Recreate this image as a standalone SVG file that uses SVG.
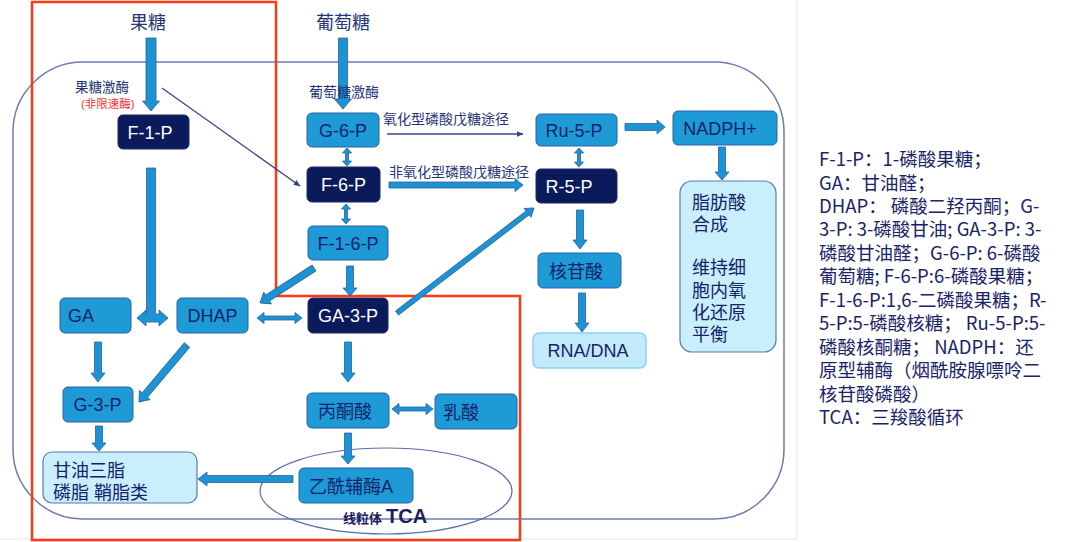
<svg xmlns="http://www.w3.org/2000/svg" width="1080" height="542" viewBox="0 0 1080 542">
<style>
.t{font-family:"Liberation Sans","Noto Sans CJK SC",sans-serif;}
.lb{fill:#1e9ad6;stroke:#2b63a6;stroke-width:1;}
.dk{fill:#0b1a5a;stroke:#1e2a6a;stroke-width:1;}
.pale{fill:#c9eefc;stroke:#5a78b5;stroke-width:1.2;}
.nt{font-size:18px;fill:#13236a;}
.wt{font-size:18px;fill:#ffffff;}
.ba{fill:#1c93d3;stroke:#2a5f9e;stroke-width:0.8;}
.thin{stroke:#34478a;stroke-width:1.3;fill:none;}
.lab{font-size:14px;fill:#253575;}
.leg{font-family:"Noto Sans CJK SC","Noto Sans",sans-serif;font-size:18.5px;fill:#1a2468;}
</style>
<defs>
<marker id="ah" viewBox="0 0 10 10" refX="9" refY="5" markerWidth="7" markerHeight="7" orient="auto" markerUnits="userSpaceOnUse">
<path d="M0,1 L10,5 L0,9 Z" fill="#34478a"/>
</marker>
</defs>
<rect width="1080" height="542" fill="#ffffff"/>
<line x1="797" y1="0" x2="797" y2="539" stroke="#e6e6e6" stroke-width="1"/>
<line x1="0" y1="539" x2="797" y2="539" stroke="#e6e6e6" stroke-width="1"/>

<g id="frame">
<rect x="13" y="62" width="771" height="457" rx="70" ry="70" fill="none" stroke="#6b7cb3" stroke-width="1.5"/>
</g>
<g id="redbox">
<polygon points="32,2 276,2 276,296 520,296 520,540 32,540" fill="none" stroke="#ff3a12" stroke-width="2.5"/>
</g>
<g id="mito">
<ellipse cx="386" cy="491" rx="126" ry="43" fill="none" stroke="#5a6ea8" stroke-width="1.2"/>
<text class="t" x="343" y="523" font-size="13" font-weight="bold" fill="#1a2060">线粒体</text>
<text class="t" x="386" y="523" font-size="20" font-weight="bold" fill="#1a2060">TCA</text>
</g>

<g id="connectors">
<path class="ba" d="M146,38 L156,38 L156,101 L159.5,101 L151,111 L142.5,101 L146,101 Z"/>
<path class="ba" d="M338.5,38 L347.5,38 L347.5,99 L351.5,99 L343,109 L334.5,99 L338.5,99 Z"/>
<path class="ba" d="M137,318 L146,310 L146,314 L146.5,314 L146.5,168 L155.5,168 L155.5,314 L159,314 L159,310 L168,318 L159,326 L159,322 L146,322 L146,326 Z"/>
<line class="thin" x1="162" y1="88" x2="300" y2="186" marker-end="url(#ah)"/>
<path class="ba" d="M347,148 L351.5,153 L348.5,153 L348.5,161 L351.5,161 L347,166 L342.5,161 L345.5,161 L345.5,153 L342.5,153 Z"/>
<path class="ba" d="M346,204 L350.5,209 L347.5,209 L347.5,219 L350.5,219 L346,224 L341.5,219 L344.5,219 L344.5,209 L341.5,209 Z"/>
<line class="thin" x1="387" y1="134" x2="523" y2="134" marker-end="url(#ah)"/>
<path class="ba" d="M389,182 L515,182 L515,178.5 L523,185 L515,191.5 L515,188 L389,188 Z"/>
<path class="ba" d="M579,148 L583.5,153 L580.5,153 L580.5,162 L583.5,162 L579,167 L574.5,162 L577.5,162 L577.5,153 L574.5,153 Z"/>
<path class="ba" d="M625,123.5 L657,123.5 L657,120 L665,127 L657,134 L657,130.5 L625,130.5 Z"/>
<path class="ba" d="M718.5,147 L725.5,147 L725.5,172 L729,172 L722,180 L715,172 L718.5,172 Z"/>
<path class="ba" d="M576.5,210 L583.5,210 L583.5,240 L587,240 L580,249 L573,240 L576.5,240 Z"/>
<path class="ba" d="M578.5,293 L585.5,293 L585.5,323 L589,323 L582,332 L575,323 L578.5,323 Z"/>
<path class="ba" d="M346.5,266 L353.5,266 L353.5,288 L357,288 L350,296 L343,288 L346.5,288 Z"/>
<path class="ba" transform="translate(314,268) rotate(147.1)" d="M0,-3.5 L55.3,-3.5 L55.3,-7 L64.3,0 L55.3,7 L55.3,3.5 L0,3.5 Z"/>
<path class="ba" d="M257,318 L264,312.5 L264,316 L295,316 L295,312.5 L302,318 L295,323.5 L295,320 L264,320 L264,323.5 Z"/>
<path class="ba" transform="translate(397,313) rotate(-37.47)" d="M0,-2.5 L164.6,-2.5 L164.6,-5.5 L172.6,0 L164.6,5.5 L164.6,2.5 L0,2.5 Z"/>
<path class="ba" d="M94.5,342 L101.5,342 L101.5,373 L105,373 L98,382 L91,373 L94.5,373 Z"/>
<path class="ba" transform="translate(187,345) rotate(130.1)" d="M0,-3.5 L65.5,-3.5 L65.5,-7 L74.5,0 L65.5,7 L65.5,3.5 L0,3.5 Z"/>
<path class="ba" d="M344.5,342 L351.5,342 L351.5,373 L355,373 L348,382 L341,373 L344.5,373 Z"/>
<path class="ba" d="M392,409 L399,403.5 L399,407 L426,407 L426,403.5 L433,409 L426,414.5 L426,411 L399,411 L399,414.5 Z"/>
<path class="ba" d="M344.5,433 L351.5,433 L351.5,456 L355,456 L348,464 L341,456 L344.5,456 Z"/>
<path class="ba" d="M293,475.5 L207,475.5 L207,472 L198,479 L207,486 L207,482.5 L293,482.5 Z"/>
<path class="ba" d="M95.5,426 L102.5,426 L102.5,443 L106,443 L99,451 L92,443 L95.5,443 Z"/>
</g>

<g id="labels">
<text class="t" x="148" y="28.5" font-size="18" fill="#253575" text-anchor="middle">果糖</text>
<text class="t" x="343" y="28.5" font-size="18" fill="#253575" text-anchor="middle">葡萄糖</text>
<text class="t" x="75" y="92" font-size="13.5" fill="#253575">果糖激酶</text>
<text class="t" x="81" y="107.5" font-size="11.5" fill="#ff3030">(非限速酶)</text>
<text class="t lab" x="309" y="97">葡萄糖激酶</text>
<text class="t lab" x="383" y="124">氧化型磷酸戊糖途径</text>
<text class="t lab" x="389" y="177">非氧化型磷酸戊糖途径</text>
</g>

<g id="n-f1p"><rect class="dk" x="118" y="115" width="71" height="34" rx="5"/><text class="t wt" x="150" y="138.5" text-anchor="middle">F-1-P</text></g>
<g id="n-g6p"><rect class="lb" x="307" y="113" width="72" height="34" rx="5"/><text class="t nt" x="343" y="136.5" text-anchor="middle">G-6-P</text></g>
<g id="n-f6p"><rect class="dk" x="307" y="167" width="73" height="35" rx="5"/><text class="t wt" x="343.5" y="191" text-anchor="middle">F-6-P</text></g>
<g id="n-f16p"><rect class="lb" x="308" y="226" width="80" height="34" rx="5"/><text class="t nt" x="348" y="249.5" text-anchor="middle">F-1-6-P</text></g>
<g id="n-ga3p"><rect class="dk" x="308" y="298" width="80" height="35" rx="5"/><text class="t wt" x="348" y="322" text-anchor="middle">GA-3-P</text></g>
<g id="n-ru5p"><rect class="lb" x="536" y="114" width="81" height="32" rx="5"/><text class="t nt" x="574" y="136.5" text-anchor="middle">Ru-5-P</text></g>
<g id="n-r5p"><rect class="dk" x="536" y="169" width="81" height="34" rx="5"/><text class="t wt" x="569" y="192.5" text-anchor="middle">R-5-P</text></g>
<g id="n-nadph"><rect class="lb" x="673" y="111" width="104" height="34" rx="5"/><text class="t nt" x="720" y="134.5" text-anchor="middle">NADPH+</text></g>
<g id="n-fat"><rect class="pale" x="680" y="181" width="96" height="171" rx="12"/>
<text class="t nt" x="692" y="209">脂肪酸</text>
<text class="t nt" x="692" y="231">合成</text>
<text class="t nt" x="692" y="274">维持细</text>
<text class="t nt" x="692" y="297">胞内氧</text>
<text class="t nt" x="692" y="319">化还原</text>
<text class="t nt" x="692" y="341">平衡</text>
</g>
<g id="n-nuc"><rect class="lb" x="538" y="253" width="83" height="35" rx="5"/><text class="t nt" x="576" y="277.5" text-anchor="middle">核苷酸</text></g>
<g id="n-rna"><rect x="533" y="333" width="113" height="35" rx="6" fill="#c3eafb" stroke="#8ed2ef" stroke-width="1.5"/><text class="t nt" x="588" y="357" text-anchor="middle">RNA/DNA</text></g>
<g id="n-ga"><rect class="lb" x="60" y="298" width="71" height="35" rx="5"/><text class="t nt" x="68" y="322">GA</text></g>
<g id="n-dhap"><rect class="lb" x="177" y="298" width="71" height="35" rx="5"/><text class="t nt" x="212.5" y="322" text-anchor="middle">DHAP</text></g>
<g id="n-g3p"><rect class="lb" x="63" y="387" width="70" height="35" rx="5"/><text class="t nt" x="97.5" y="411" text-anchor="middle">G-3-P</text></g>
<g id="n-pyr"><rect class="lb" x="307" y="393" width="82" height="35" rx="5"/><text class="t nt" x="345" y="417.5" text-anchor="middle">丙酮酸</text></g>
<g id="n-lac"><rect class="lb" x="435" y="394" width="82" height="35" rx="5"/><text class="t nt" x="443" y="418.5">乳酸</text></g>
<g id="n-acoa"><rect class="lb" x="299" y="468" width="114" height="35" rx="5"/><text class="t nt" x="351" y="492.5" text-anchor="middle">乙酰辅酶A</text></g>
<g id="n-tg"><rect class="pale" x="43" y="452" width="154" height="51" rx="9"/>
<text class="t nt" x="53" y="477">甘油三脂</text>
<text class="t nt" x="53" y="499">磷脂 鞘脂类</text>
</g>

<g id="legend">
<text class="leg" x="819" y="166">F-1-P：1-磷酸果糖；</text>
<text class="leg" x="819" y="189.5">GA：甘油醛；</text>
<text class="leg" x="819" y="213">DHAP： 磷酸二羟丙酮；G-</text>
<text class="leg" x="819" y="236.4">3-P: 3-磷酸甘油; GA-3-P: 3-</text>
<text class="leg" x="819" y="259.8">磷酸甘油醛；G-6-P: 6-磷酸</text>
<text class="leg" x="819" y="283.3">葡萄糖; F-6-P:6-磷酸果糖；</text>
<text class="leg" x="819" y="306.7">F-1-6-P:1,6-二磷酸果糖；R-</text>
<text class="leg" x="819" y="330.2">5-P:5-磷酸核糖； Ru-5-P:5-</text>
<text class="leg" x="819" y="353.6">磷酸核酮糖； NADPH：还</text>
<text class="leg" x="819" y="377">原型辅酶（烟酰胺腺嘌呤二</text>
<text class="leg" x="819" y="400.5">核苷酸磷酸）</text>
<text class="leg" x="819" y="424">TCA：三羧酸循环</text>
</g>
</svg>
